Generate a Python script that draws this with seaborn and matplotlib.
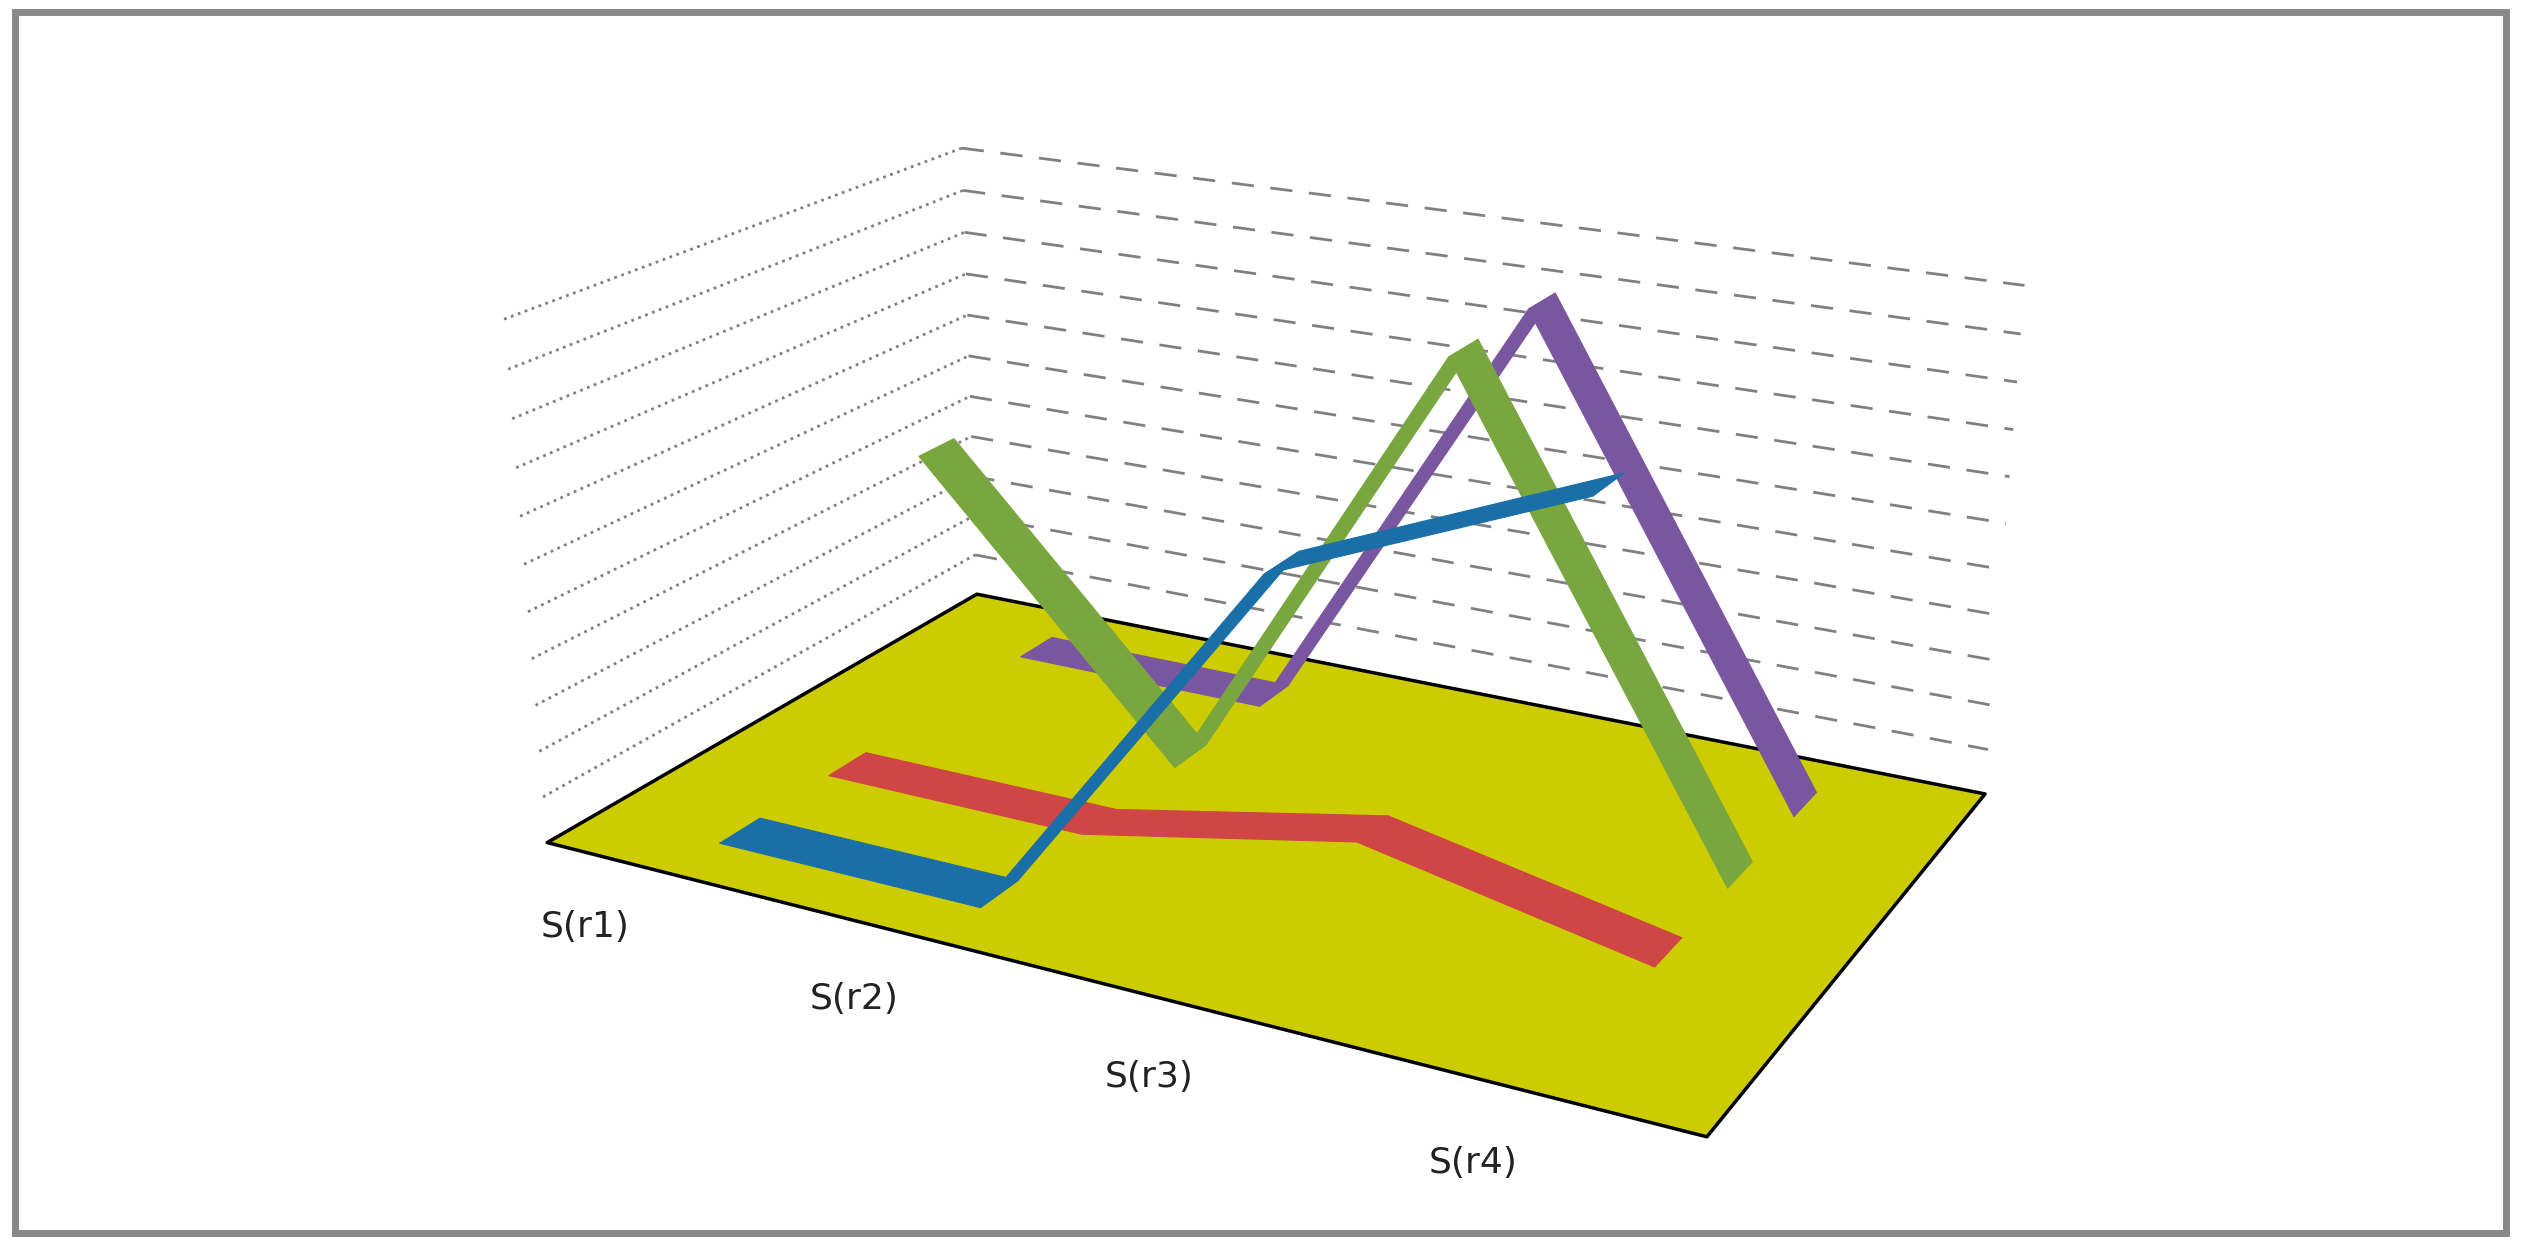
import numpy as np
import matplotlib
matplotlib.use("Agg")
import matplotlib.pyplot as plt
import seaborn as sns
from mpl_toolkits.mplot3d.art3d import Poly3DCollection

sns.set_theme(style="white")

categories = ["S(r1)", "S(r2)", "S(r3)", "S(r4)"]
series_names = ["blue", "red", "green", "purple"]
blue = [0, 0, 8, 10.5]
red = [0, 0, 1.2, 0]
green = [6, 0, 10, 0]
purple = [0, 0, 10, 0]
series = [blue, red, green, purple]
colors = ["#1a6fa8", "#d04545", "#7aa640", "#7a56a0"]

fig = plt.figure(figsize=(25.21, 12.45), dpi=100)
fig.patch.set_facecolor("white")
ax = fig.add_axes([0.0, 0.05, 1.0, 1.0], projection="3d", computed_zorder=False)
ax.set_proj_type("persp", focal_length=0.5)
ax.view_init(elev=20, azim=-62)

x = np.arange(len(categories))
nser = len(series)
floor = [[(-0.5, -0.6, 0), (3.5, -0.6, 0), (3.5, nser - 0.4, 0), (-0.5, nser - 0.4, 0)]]
ax.add_collection3d(Poly3DCollection(floor, facecolor="#cccc00", edgecolor="black", linewidth=2.5, zorder=1))
for z in np.arange(1, 12):
    ax.plot([-0.5, 3.5], [nser - 0.4] * 2, [z] * 2, color="gray", ls=(0, (8, 6)), lw=2, zorder=0)
    ax.plot([-0.5, -0.5], [-0.6, nser - 0.4], [z, z], color="gray", ls=":", lw=2, zorder=0)

w = 0.18
for i in range(nser - 1, -1, -1):
    vals = series[i]
    polys = []
    for k in range(len(x) - 1):
        polys.append([(x[k], i - w, vals[k]), (x[k + 1], i - w, vals[k + 1]),
                      (x[k + 1], i + w, vals[k + 1]), (x[k], i + w, vals[k])])
    pc = Poly3DCollection(polys, facecolor=colors[i], edgecolor=colors[i], linewidth=0.8,
                          zorder=10 + (nser - i))
    ax.add_collection3d(pc)

ax.set_xlim(-0.5, 3.5)
ax.set_ylim(-0.6, nser - 0.4)
ax.set_zlim(0, 12)
ax.set_axis_off()
ax.set_box_aspect((2.5, 1.6, 1.2), zoom=1.25)

for k, c in enumerate(categories):
    ax.text(x[k], -1.3, 0, c, fontsize=26, ha="center", va="center", color="#222222", zorder=20)

for a in ax.get_children():
    try:
        a.set_clip_on(False)
    except Exception:
        pass

fig.patches.append(plt.Rectangle((0.006, 0.01), 0.988, 0.98, transform=fig.transFigure,
                                 fill=False, edgecolor="#888888", linewidth=5))
fig.savefig("out.png", dpi=100, facecolor="white")
